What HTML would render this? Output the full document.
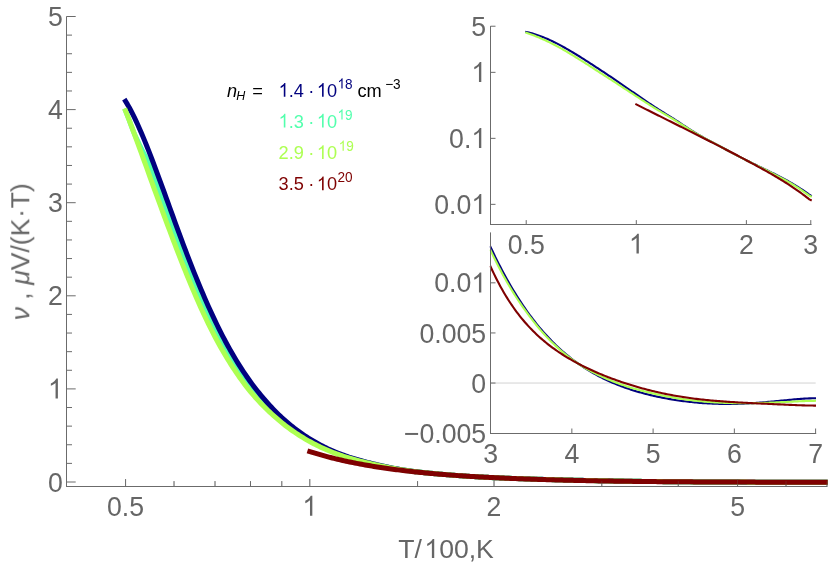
<!DOCTYPE html>
<html>
<head>
<meta charset="utf-8">
<title>Plot</title>
<style>
html,body{margin:0;padding:0;background:#fff;}
body{width:830px;height:572px;overflow:hidden;font-family:"Liberation Sans",sans-serif;}
svg{display:block;}
</style>
</head>
<body>
<svg width="830" height="572" viewBox="0 0 830 572" font-family="'Liberation Sans', sans-serif">
<rect width="830" height="572" fill="#ffffff"/>
<g opacity="0.999">
<line x1="125.57" y1="486.50" x2="125.57" y2="479.10" stroke="#6b6b6b" stroke-width="1.00"/>
<line x1="309.80" y1="486.50" x2="309.80" y2="479.10" stroke="#6b6b6b" stroke-width="1.00"/>
<line x1="494.03" y1="486.50" x2="494.03" y2="479.10" stroke="#6b6b6b" stroke-width="1.00"/>
<line x1="737.57" y1="486.50" x2="737.57" y2="479.10" stroke="#6b6b6b" stroke-width="1.00"/>
<line x1="174.03" y1="486.50" x2="174.03" y2="481.10" stroke="#6b6b6b" stroke-width="1.00"/>
<line x1="215.00" y1="486.50" x2="215.00" y2="481.10" stroke="#6b6b6b" stroke-width="1.00"/>
<line x1="250.49" y1="486.50" x2="250.49" y2="481.10" stroke="#6b6b6b" stroke-width="1.00"/>
<line x1="281.80" y1="486.50" x2="281.80" y2="481.10" stroke="#6b6b6b" stroke-width="1.00"/>
<line x1="417.57" y1="486.50" x2="417.57" y2="481.10" stroke="#6b6b6b" stroke-width="1.00"/>
<line x1="601.80" y1="486.50" x2="601.80" y2="481.10" stroke="#6b6b6b" stroke-width="1.00"/>
<line x1="678.26" y1="486.50" x2="678.26" y2="481.10" stroke="#6b6b6b" stroke-width="1.00"/>
<line x1="786.03" y1="486.50" x2="786.03" y2="481.10" stroke="#6b6b6b" stroke-width="1.00"/>
<line x1="827.00" y1="486.50" x2="827.00" y2="481.10" stroke="#6b6b6b" stroke-width="1.00"/>
<clipPath id="mc"><rect x="60" y="0" width="767.7" height="572"/></clipPath>
<g fill="none" stroke-width="5.00" stroke-linejoin="round" stroke-linecap="square" clip-path="url(#mc)">
<path d="M125.57,110.81 L127.33,115.31 L129.09,119.89 L130.84,124.54 L132.60,129.25 L134.36,133.89 L136.12,137.67 L137.88,141.37 L139.63,144.98 L141.39,148.52 L143.15,152.01 L144.91,155.49 L146.67,158.94 L148.42,162.37 L150.18,166.32 L151.94,171.06 L153.70,175.81 L155.46,180.57 L157.21,185.34 L158.97,190.11 L160.73,194.90 L162.49,199.69 L164.25,204.49 L166.00,209.29 L167.76,214.09 L169.52,218.87 L171.28,223.64 L173.03,228.39 L174.79,233.12 L176.55,237.82 L178.31,242.49 L180.07,247.13 L181.82,251.73 L183.58,256.30 L185.34,260.82 L187.10,265.29 L188.86,269.72 L190.61,274.10 L192.37,278.43 L194.13,282.71 L195.89,286.93 L197.65,291.10 L199.40,295.22 L201.16,299.27 L202.92,303.26 L204.68,307.19 L206.44,311.06 L208.19,314.86 L209.95,318.59 L211.71,322.26 L213.47,325.86 L215.23,329.39 L216.98,332.85 L218.74,336.24 L220.50,339.57 L222.26,342.84 L224.02,346.04 L225.77,349.18 L227.53,352.25 L229.29,355.27 L231.05,358.22 L232.81,361.11 L234.56,363.94 L236.32,366.72 L238.08,369.43 L239.84,372.08 L241.60,374.68 L243.35,377.21 L245.11,379.69 L246.87,382.12 L248.63,384.48 L250.39,386.79 L252.14,389.03 L253.90,391.22 L255.66,393.36 L257.42,395.44 L259.18,397.48 L260.93,399.48 L262.69,401.43 L264.45,403.34 L266.21,405.21 L267.97,407.04 L269.72,408.84 L271.48,410.60 L273.24,412.32 L275.00,414.00 L276.76,415.65 L278.51,417.27 L280.27,418.84 L282.03,420.38 L283.79,421.88 L285.54,423.35 L287.30,424.78 L289.06,426.17 L290.82,427.54 L292.58,428.86 L294.33,430.16 L296.09,431.42 L297.85,432.66 L299.61,433.86 L301.37,435.03 L303.12,436.18 L304.88,437.29 L306.64,438.38 L308.40,439.44 L310.16,440.48 L311.91,441.49 L313.67,442.47 L315.43,443.43 L317.19,444.36 L318.95,445.28 L320.70,446.16 L322.46,447.03 L324.22,447.87 L325.98,448.69 L327.74,449.49 L329.49,450.27 L331.25,451.03 L333.01,451.77 L334.77,452.48 L336.53,453.17 L338.28,453.85 L340.04,454.50 L341.80,455.13 L343.56,455.74 L345.32,456.34 L347.07,456.91 L348.83,457.48 L350.59,458.02 L352.35,458.55 L354.11,459.07 L355.86,459.57 L357.62,460.07 L359.38,460.55 L361.14,461.02 L362.90,461.48 L364.65,461.94 L366.41,462.38 L368.17,462.82 L369.93,463.25 L371.69,463.67 L373.44,464.08 L375.20,464.49 L376.96,464.89 L378.72,465.28 L380.48,465.67 L382.23,466.05 L383.99,466.42 L385.75,466.79 L387.51,467.15 L389.27,467.50 L391.02,467.84 L392.78,468.17 L394.54,468.49 L396.30,468.81 L398.06,469.11 L399.81,469.41 L401.57,469.70 L403.33,469.98 L405.09,470.24 L406.84,470.50 L408.60,470.75 L410.36,470.99 L412.12,471.23 L413.88,471.45 L415.63,471.67 L417.39,471.88 L419.15,472.08 L420.91,472.28 L422.67,472.47 L424.42,472.66 L426.18,472.84 L427.94,473.02 L429.70,473.19 L431.46,473.36 L433.21,473.53 L434.97,473.69 L436.73,473.85 L438.49,474.00 L440.25,474.16 L442.00,474.31 L443.76,474.45 L445.52,474.60 L447.28,474.74 L449.04,474.88 L450.79,475.02 L452.55,475.16 L454.31,475.29 L456.07,475.42 L457.83,475.55 L459.58,475.68 L461.34,475.80 L463.10,475.92 L464.86,476.04 L466.62,476.16 L468.37,476.27 L470.13,476.38 L471.89,476.49 L473.65,476.60 L475.41,476.70 L477.16,476.81 L478.92,476.91 L480.68,477.00 L482.44,477.10 L484.20,477.19 L485.95,477.28 L487.71,477.37 L489.47,477.46 L491.23,477.54 L492.99,477.63 L494.74,477.71 L496.50,477.78 L498.26,477.86 L500.02,477.94 L501.78,478.01 L503.53,478.08 L505.29,478.15 L507.05,478.22 L508.81,478.29 L510.57,478.35 L512.32,478.42 L514.08,478.48 L515.84,478.54 L517.60,478.60 L519.36,478.66 L521.11,478.72 L522.87,478.78 L524.63,478.84 L526.39,478.89 L528.14,478.95 L529.90,479.00 L531.66,479.06 L533.42,479.11 L535.18,479.16 L536.93,479.21 L538.69,479.26 L540.45,479.31 L542.21,479.36 L543.97,479.41 L545.72,479.46 L547.48,479.51 L549.24,479.56 L551.00,479.60 L552.76,479.65 L554.51,479.69 L556.27,479.74 L558.03,479.78 L559.79,479.83 L561.55,479.87 L563.30,479.92 L565.06,479.96 L566.82,480.00 L568.58,480.04 L570.34,480.08 L572.09,480.13 L573.85,480.17 L575.61,480.21 L577.37,480.25 L579.13,480.29 L580.88,480.33 L582.64,480.37 L584.40,480.41 L586.16,480.44 L587.92,480.48 L589.67,480.52 L591.43,480.56 L593.19,480.59 L594.95,480.63 L596.71,480.67 L598.46,480.70 L600.22,480.74 L601.98,480.76 L603.74,480.79 L605.50,480.82 L607.25,480.85 L609.01,480.88 L610.77,480.91 L612.53,480.94 L614.29,480.97 L616.04,481.00 L617.80,481.03 L619.56,481.06 L621.32,481.08 L623.08,481.11 L624.83,481.14 L626.59,481.17 L628.35,481.19 L630.11,481.22 L631.87,481.24 L633.62,481.27 L635.38,481.29 L637.14,481.32 L638.90,481.34 L640.66,481.36 L642.41,481.39 L644.17,481.41 L645.93,481.43 L647.69,481.46 L649.44,481.48 L651.20,481.50 L652.96,481.52 L654.72,481.54 L656.48,481.56 L658.23,481.58 L659.99,481.60 L661.75,481.62 L663.51,481.64 L665.27,481.66 L667.02,481.67 L668.78,481.69 L670.54,481.71 L672.30,481.72 L674.06,481.74 L675.81,481.76 L677.57,481.77 L679.33,481.79 L681.09,481.80 L682.85,481.82 L684.60,481.83 L686.36,481.84 L688.12,481.86 L689.88,481.87 L691.64,481.88 L693.39,481.89 L695.15,481.90 L696.91,481.92 L698.67,481.93 L700.43,481.94 L702.18,481.95 L703.94,481.96 L705.70,481.97 L707.46,481.98 L709.22,481.99 L710.97,482.00 L712.73,482.01 L714.49,482.01 L716.25,482.02 L718.01,482.03 L719.76,482.04 L721.52,482.05 L723.28,482.05 L725.04,482.06 L726.80,482.07 L728.55,482.08 L730.31,482.08 L732.07,482.09 L733.83,482.09 L735.59,482.10 L737.34,482.11 L739.10,482.11 L740.86,482.12 L742.62,482.12 L744.38,482.13 L746.13,482.13 L747.89,482.14 L749.65,482.14 L751.41,482.15 L753.17,482.15 L754.92,482.16 L756.68,482.16 L758.44,482.16 L760.20,482.17 L761.96,482.17 L763.71,482.17 L765.47,482.17 L767.23,482.18 L768.99,482.18 L770.74,482.18 L772.50,482.18 L774.26,482.19 L776.02,482.19 L777.78,482.19 L779.53,482.19 L781.29,482.19 L783.05,482.19 L784.81,482.19 L786.57,482.19 L788.32,482.19 L790.08,482.19 L791.84,482.19 L793.60,482.19 L795.36,482.19 L797.11,482.19 L798.87,482.18 L800.63,482.18 L802.39,482.18 L804.15,482.18 L805.90,482.18 L807.66,482.17 L809.42,482.17 L811.18,482.17 L812.94,482.17 L814.69,482.16 L816.45,482.16 L818.21,482.16 L819.97,482.16 L821.73,482.16 L823.48,482.15 L825.24,482.15 L827.00,482.15" stroke="#52ffad"/>
<path d="M125.57,101.24 L127.33,104.16 L129.09,107.24 L130.84,110.49 L132.60,113.90 L134.36,117.45 L136.12,121.14 L137.88,124.97 L139.63,128.91 L141.39,132.97 L143.15,137.13 L144.91,141.39 L146.67,145.74 L148.42,150.17 L150.18,154.67 L151.94,159.24 L153.70,163.87 L155.46,168.54 L157.21,173.26 L158.97,178.02 L160.73,182.81 L162.49,187.62 L164.25,192.45 L166.00,197.29 L167.76,202.15 L169.52,207.00 L171.28,211.85 L173.03,216.69 L174.79,221.52 L176.55,226.33 L178.31,231.11 L180.07,235.87 L181.82,240.60 L183.58,245.30 L185.34,249.95 L187.10,254.57 L188.86,259.14 L190.61,263.66 L192.37,268.13 L194.13,272.55 L195.89,276.91 L197.65,281.23 L199.40,285.48 L201.16,289.68 L202.92,293.83 L204.68,297.91 L206.44,301.93 L208.19,305.89 L209.95,309.79 L211.71,313.62 L213.47,317.39 L215.23,321.10 L216.98,324.74 L218.74,328.32 L220.50,331.83 L222.26,335.27 L224.02,338.65 L225.77,341.96 L227.53,345.21 L229.29,348.40 L231.05,351.52 L232.81,354.58 L234.56,357.57 L236.32,360.50 L238.08,363.37 L239.84,366.18 L241.60,368.92 L243.35,371.61 L245.11,374.23 L246.87,376.79 L248.63,379.30 L250.39,381.74 L252.14,384.13 L253.90,386.47 L255.66,388.75 L257.42,390.99 L259.18,393.17 L260.93,395.32 L262.69,397.41 L264.45,399.47 L266.21,401.49 L267.97,403.46 L269.72,405.40 L271.48,407.29 L273.24,409.14 L275.00,410.94 L276.76,412.71 L278.51,414.43 L280.27,416.12 L282.03,417.76 L283.79,419.36 L285.54,420.92 L287.30,422.45 L289.06,423.93 L290.82,425.38 L292.58,426.80 L294.33,428.18 L296.09,429.52 L297.85,430.83 L299.61,432.11 L301.37,433.35 L303.12,434.57 L304.88,435.75 L306.64,436.90 L308.40,438.03 L310.16,439.12 L311.91,440.19 L313.67,441.23 L315.43,442.24 L317.19,443.23 L318.95,444.19 L320.70,445.13 L322.46,446.04 L324.22,446.93 L325.98,447.80 L327.74,448.64 L329.49,449.46 L331.25,450.26 L333.01,451.04 L334.77,451.79 L336.53,452.52 L338.28,453.22 L340.04,453.91 L341.80,454.57 L343.56,455.21 L345.32,455.84 L347.07,456.44 L348.83,457.03 L350.59,457.60 L352.35,458.15 L354.11,458.69 L355.86,459.22 L357.62,459.73 L359.38,460.23 L361.14,460.72 L362.90,461.20 L364.65,461.67 L366.41,462.13 L368.17,462.58 L369.93,463.02 L371.69,463.46 L373.44,463.88 L375.20,464.30 L376.96,464.71 L378.72,465.12 L380.48,465.52 L382.23,465.91 L383.99,466.29 L385.75,466.67 L387.51,467.04 L389.27,467.40 L391.02,467.75 L392.78,468.09 L394.54,468.42 L396.30,468.74 L398.06,469.05 L399.81,469.36 L401.57,469.65 L403.33,469.93 L405.09,470.21 L406.84,470.47 L408.60,470.73 L410.36,470.97 L412.12,471.21 L413.88,471.43 L415.63,471.65 L417.39,471.87 L419.15,472.07 L420.91,472.27 L422.67,472.47 L424.42,472.66 L426.18,472.84 L427.94,473.02 L429.70,473.19 L431.46,473.36 L433.21,473.53 L434.97,473.69 L436.73,473.85 L438.49,474.00 L440.25,474.16 L442.00,474.31 L443.76,474.45 L445.52,474.60 L447.28,474.74 L449.04,474.88 L450.79,475.02 L452.55,475.16 L454.31,475.29 L456.07,475.42 L457.83,475.55 L459.58,475.68 L461.34,475.80 L463.10,475.92 L464.86,476.04 L466.62,476.16 L468.37,476.27 L470.13,476.38 L471.89,476.49 L473.65,476.60 L475.41,476.70 L477.16,476.81 L478.92,476.91 L480.68,477.00 L482.44,477.10 L484.20,477.19 L485.95,477.28 L487.71,477.37 L489.47,477.46 L491.23,477.54 L492.99,477.63 L494.74,477.71 L496.50,477.78 L498.26,477.86 L500.02,477.94 L501.78,478.01 L503.53,478.08 L505.29,478.15 L507.05,478.22 L508.81,478.28 L510.57,478.35 L512.32,478.41 L514.08,478.48 L515.84,478.54 L517.60,478.60 L519.36,478.66 L521.11,478.71 L522.87,478.77 L524.63,478.83 L526.39,478.88 L528.14,478.94 L529.90,478.99 L531.66,479.04 L533.42,479.10 L535.18,479.15 L536.93,479.20 L538.69,479.25 L540.45,479.30 L542.21,479.35 L543.97,479.40 L545.72,479.44 L547.48,479.49 L549.24,479.54 L551.00,479.58 L552.76,479.63 L554.51,479.68 L556.27,479.72 L558.03,479.76 L559.79,479.81 L561.55,479.85 L563.30,479.90 L565.06,479.94 L566.82,479.98 L568.58,480.02 L570.34,480.06 L572.09,480.11 L573.85,480.15 L575.61,480.19 L577.37,480.23 L579.13,480.27 L580.88,480.31 L582.64,480.34 L584.40,480.38 L586.16,480.42 L587.92,480.46 L589.67,480.50 L591.43,480.53 L593.19,480.57 L594.95,480.61 L596.71,480.64 L598.46,480.68 L600.22,480.71 L601.98,480.74 L603.74,480.77 L605.50,480.80 L607.25,480.83 L609.01,480.87 L610.77,480.90 L612.53,480.93 L614.29,480.96 L616.04,480.99 L617.80,481.01 L619.56,481.04 L621.32,481.07 L623.08,481.10 L624.83,481.13 L626.59,481.15 L628.35,481.18 L630.11,481.21 L631.87,481.23 L633.62,481.26 L635.38,481.28 L637.14,481.31 L638.90,481.33 L640.66,481.36 L642.41,481.38 L644.17,481.40 L645.93,481.43 L647.69,481.45 L649.44,481.47 L651.20,481.49 L652.96,481.51 L654.72,481.54 L656.48,481.56 L658.23,481.58 L659.99,481.60 L661.75,481.61 L663.51,481.63 L665.27,481.65 L667.02,481.67 L668.78,481.69 L670.54,481.70 L672.30,481.72 L674.06,481.74 L675.81,481.75 L677.57,481.77 L679.33,481.79 L681.09,481.80 L682.85,481.81 L684.60,481.83 L686.36,481.84 L688.12,481.86 L689.88,481.87 L691.64,481.88 L693.39,481.90 L695.15,481.91 L696.91,481.92 L698.67,481.93 L700.43,481.94 L702.18,481.95 L703.94,481.96 L705.70,481.97 L707.46,481.98 L709.22,481.99 L710.97,482.00 L712.73,482.01 L714.49,482.02 L716.25,482.03 L718.01,482.04 L719.76,482.05 L721.52,482.06 L723.28,482.06 L725.04,482.07 L726.80,482.08 L728.55,482.09 L730.31,482.09 L732.07,482.10 L733.83,482.11 L735.59,482.11 L737.34,482.12 L739.10,482.12 L740.86,482.13 L742.62,482.13 L744.38,482.14 L746.13,482.14 L747.89,482.15 L749.65,482.15 L751.41,482.16 L753.17,482.16 L754.92,482.16 L756.68,482.17 L758.44,482.17 L760.20,482.17 L761.96,482.18 L763.71,482.18 L765.47,482.18 L767.23,482.18 L768.99,482.19 L770.74,482.19 L772.50,482.19 L774.26,482.19 L776.02,482.19 L777.78,482.19 L779.53,482.19 L781.29,482.19 L783.05,482.19 L784.81,482.19 L786.57,482.19 L788.32,482.19 L790.08,482.19 L791.84,482.19 L793.60,482.19 L795.36,482.19 L797.11,482.19 L798.87,482.18 L800.63,482.18 L802.39,482.18 L804.15,482.18 L805.90,482.17 L807.66,482.17 L809.42,482.17 L811.18,482.16 L812.94,482.16 L814.69,482.16 L816.45,482.15 L818.21,482.15 L819.97,482.15 L821.73,482.14 L823.48,482.14 L825.24,482.14 L827.00,482.14" stroke="#00007f"/>
<path d="M125.57,110.81 L127.33,115.31 L129.09,119.89 L130.84,124.54 L132.60,129.25 L134.36,134.00 L136.12,138.78 L137.88,143.57 L139.63,148.38 L141.39,153.19 L143.15,158.02 L144.91,162.88 L146.67,167.76 L148.42,172.66 L150.18,177.56 L151.94,182.44 L153.70,187.31 L155.46,192.14 L157.21,196.94 L158.97,201.72 L160.73,206.50 L162.49,211.27 L164.25,216.04 L166.00,220.78 L167.76,225.52 L169.52,230.23 L171.28,234.91 L173.03,239.57 L174.79,244.20 L176.55,248.80 L178.31,253.35 L180.07,257.87 L181.82,262.35 L183.58,266.78 L185.34,271.17 L187.10,275.51 L188.86,279.80 L190.61,284.04 L192.37,288.23 L194.13,292.38 L195.89,296.46 L197.65,300.50 L199.40,304.47 L201.16,308.38 L202.92,312.22 L204.68,316.01 L206.44,319.72 L208.19,323.37 L209.95,326.95 L211.71,330.45 L213.47,333.89 L215.23,337.25 L216.98,340.54 L218.74,343.76 L220.50,346.92 L222.26,350.01 L224.02,353.04 L225.77,356.02 L227.53,358.93 L229.29,361.78 L231.05,364.58 L232.81,367.31 L234.56,369.99 L236.32,372.61 L238.08,375.18 L239.84,377.69 L241.60,380.14 L243.35,382.54 L245.11,384.88 L246.87,387.17 L248.63,389.41 L250.39,391.58 L252.14,393.69 L253.90,395.74 L255.66,397.74 L257.42,399.69 L259.18,401.58 L260.93,403.44 L262.69,405.25 L264.45,407.02 L266.21,408.76 L267.97,410.46 L269.72,412.13 L271.48,413.76 L273.24,415.36 L275.00,416.93 L276.76,418.47 L278.51,419.98 L280.27,421.46 L282.03,422.90 L283.79,424.30 L285.54,425.68 L287.30,427.02 L289.06,428.33 L290.82,429.61 L292.58,430.85 L294.33,432.07 L296.09,433.26 L297.85,434.42 L299.61,435.55 L301.37,436.65 L303.12,437.73 L304.88,438.78 L306.64,439.81 L308.40,440.81 L310.16,441.79 L311.91,442.74 L313.67,443.67 L315.43,444.58 L317.19,445.46 L318.95,446.33 L320.70,447.17 L322.46,447.99 L324.22,448.78 L325.98,449.56 L327.74,450.32 L329.49,451.06 L331.25,451.78 L333.01,452.48 L334.77,453.16 L336.53,453.82 L338.28,454.46 L340.04,455.08 L341.80,455.68 L343.56,456.26 L345.32,456.83 L347.07,457.38 L348.83,457.92 L350.59,458.44 L352.35,458.95 L354.11,459.44 L355.86,459.93 L357.62,460.40 L359.38,460.86 L361.14,461.32 L362.90,461.76 L364.65,462.20 L366.41,462.63 L368.17,463.05 L369.93,463.46 L371.69,463.87 L373.44,464.27 L375.20,464.67 L376.96,465.06 L378.72,465.44 L380.48,465.82 L382.23,466.19 L383.99,466.55 L385.75,466.91 L387.51,467.26 L389.27,467.60 L391.02,467.93 L392.78,468.25 L394.54,468.57 L396.30,468.88 L398.06,469.18 L399.81,469.47 L401.57,469.75 L403.33,470.02 L405.09,470.28 L406.84,470.54 L408.60,470.78 L410.36,471.02 L412.12,471.25 L413.88,471.47 L415.63,471.68 L417.39,471.89 L419.15,472.09 L420.91,472.29 L422.67,472.48 L424.42,472.66 L426.18,472.84 L427.94,473.02 L429.70,473.19 L431.46,473.36 L433.21,473.53 L434.97,473.69 L436.73,473.85 L438.49,474.00 L440.25,474.16 L442.00,474.31 L443.76,474.45 L445.52,474.60 L447.28,474.74 L449.04,474.88 L450.79,475.02 L452.55,475.16 L454.31,475.29 L456.07,475.42 L457.83,475.55 L459.58,475.68 L461.34,475.80 L463.10,475.92 L464.86,476.04 L466.62,476.16 L468.37,476.27 L470.13,476.38 L471.89,476.49 L473.65,476.60 L475.41,476.70 L477.16,476.81 L478.92,476.91 L480.68,477.00 L482.44,477.10 L484.20,477.19 L485.95,477.28 L487.71,477.37 L489.47,477.46 L491.23,477.54 L492.99,477.63 L494.74,477.71 L496.50,477.78 L498.26,477.86 L500.02,477.94 L501.78,478.01 L503.53,478.08 L505.29,478.15 L507.05,478.22 L508.81,478.29 L510.57,478.36 L512.32,478.42 L514.08,478.48 L515.84,478.55 L517.60,478.61 L519.36,478.67 L521.11,478.73 L522.87,478.79 L524.63,478.85 L526.39,478.90 L528.14,478.96 L529.90,479.01 L531.66,479.07 L533.42,479.12 L535.18,479.17 L536.93,479.23 L538.69,479.28 L540.45,479.33 L542.21,479.38 L543.97,479.43 L545.72,479.48 L547.48,479.53 L549.24,479.57 L551.00,479.62 L552.76,479.67 L554.51,479.71 L556.27,479.76 L558.03,479.80 L559.79,479.85 L561.55,479.89 L563.30,479.94 L565.06,479.98 L566.82,480.02 L568.58,480.06 L570.34,480.11 L572.09,480.15 L573.85,480.19 L575.61,480.23 L577.37,480.27 L579.13,480.31 L580.88,480.35 L582.64,480.39 L584.40,480.43 L586.16,480.47 L587.92,480.50 L589.67,480.54 L591.43,480.58 L593.19,480.62 L594.95,480.65 L596.71,480.69 L598.46,480.72 L600.22,480.76 L601.98,480.77 L603.74,480.80 L605.50,480.83 L607.25,480.86 L609.01,480.90 L610.77,480.93 L612.53,480.95 L614.29,480.98 L616.04,481.01 L617.80,481.04 L619.56,481.07 L621.32,481.10 L623.08,481.12 L624.83,481.15 L626.59,481.18 L628.35,481.20 L630.11,481.23 L631.87,481.25 L633.62,481.28 L635.38,481.30 L637.14,481.33 L638.90,481.35 L640.66,481.37 L642.41,481.39 L644.17,481.42 L645.93,481.44 L647.69,481.46 L649.44,481.48 L651.20,481.51 L652.96,481.53 L654.72,481.55 L656.48,481.57 L658.23,481.59 L659.99,481.61 L661.75,481.62 L663.51,481.64 L665.27,481.66 L667.02,481.68 L668.78,481.69 L670.54,481.71 L672.30,481.73 L674.06,481.74 L675.81,481.76 L677.57,481.77 L679.33,481.79 L681.09,481.80 L682.85,481.82 L684.60,481.83 L686.36,481.84 L688.12,481.85 L689.88,481.87 L691.64,481.88 L693.39,481.89 L695.15,481.90 L696.91,481.91 L698.67,481.92 L700.43,481.93 L702.18,481.94 L703.94,481.95 L705.70,481.96 L707.46,481.97 L709.22,481.98 L710.97,481.99 L712.73,482.00 L714.49,482.01 L716.25,482.02 L718.01,482.02 L719.76,482.03 L721.52,482.04 L723.28,482.05 L725.04,482.05 L726.80,482.06 L728.55,482.07 L730.31,482.07 L732.07,482.08 L733.83,482.08 L735.59,482.09 L737.34,482.10 L739.10,482.10 L740.86,482.11 L742.62,482.11 L744.38,482.12 L746.13,482.12 L747.89,482.13 L749.65,482.13 L751.41,482.14 L753.17,482.14 L754.92,482.15 L756.68,482.15 L758.44,482.15 L760.20,482.16 L761.96,482.16 L763.71,482.16 L765.47,482.17 L767.23,482.17 L768.99,482.17 L770.74,482.17 L772.50,482.18 L774.26,482.18 L776.02,482.18 L777.78,482.18 L779.53,482.18 L781.29,482.18 L783.05,482.19 L784.81,482.19 L786.57,482.19 L788.32,482.19 L790.08,482.19 L791.84,482.19 L793.60,482.19 L795.36,482.19 L797.11,482.19 L798.87,482.19 L800.63,482.18 L802.39,482.18 L804.15,482.18 L805.90,482.18 L807.66,482.18 L809.42,482.18 L811.18,482.18 L812.94,482.18 L814.69,482.17 L816.45,482.17 L818.21,482.17 L819.97,482.17 L821.73,482.17 L823.48,482.17 L825.24,482.17 L827.00,482.17" stroke="#adff52"/>
<path d="M309.80,451.57 L311.53,452.12 L313.26,452.66 L314.99,453.19 L316.72,453.71 L318.45,454.22 L320.18,454.72 L321.91,455.21 L323.64,455.69 L325.37,456.16 L327.10,456.63 L328.83,457.08 L330.56,457.53 L332.29,457.97 L334.02,458.40 L335.75,458.82 L337.48,459.24 L339.21,459.64 L340.94,460.04 L342.67,460.44 L344.40,460.82 L346.13,461.20 L347.85,461.57 L349.58,461.94 L351.31,462.29 L353.04,462.65 L354.77,462.99 L356.50,463.33 L358.23,463.66 L359.96,463.99 L361.69,464.31 L363.42,464.63 L365.15,464.94 L366.88,465.24 L368.61,465.54 L370.34,465.83 L372.07,466.12 L373.80,466.41 L375.53,466.68 L377.26,466.96 L378.99,467.23 L380.72,467.49 L382.45,467.75 L384.18,468.00 L385.91,468.25 L387.64,468.50 L389.37,468.74 L391.10,468.98 L392.83,469.21 L394.56,469.44 L396.29,469.67 L398.02,469.89 L399.75,470.10 L401.48,470.32 L403.21,470.53 L404.94,470.73 L406.67,470.93 L408.40,471.13 L410.13,471.33 L411.86,471.52 L413.59,471.71 L415.32,471.90 L417.05,472.08 L418.78,472.26 L420.51,472.43 L422.23,472.60 L423.96,472.77 L425.69,472.94 L427.42,473.11 L429.15,473.27 L430.88,473.43 L432.61,473.58 L434.34,473.73 L436.07,473.88 L437.80,474.03 L439.53,474.18 L441.26,474.32 L442.99,474.46 L444.72,474.60 L446.45,474.73 L448.18,474.87 L449.91,475.00 L451.64,475.12 L453.37,475.25 L455.10,475.37 L456.83,475.50 L458.56,475.62 L460.29,475.73 L462.02,475.85 L463.75,475.96 L465.48,476.07 L467.21,476.18 L468.94,476.29 L470.67,476.40 L472.40,476.50 L474.13,476.61 L475.86,476.71 L477.59,476.81 L479.32,476.90 L481.05,477.00 L482.78,477.09 L484.51,477.19 L486.24,477.28 L487.97,477.37 L489.70,477.45 L491.43,477.54 L493.16,477.62 L494.88,477.71 L496.61,477.79 L498.34,477.87 L500.07,477.95 L501.80,478.03 L503.53,478.10 L505.26,478.18 L506.99,478.25 L508.72,478.33 L510.45,478.40 L512.18,478.47 L513.91,478.54 L515.64,478.61 L517.37,478.67 L519.10,478.74 L520.83,478.80 L522.56,478.87 L524.29,478.93 L526.02,478.99 L527.75,479.05 L529.48,479.11 L531.21,479.17 L532.94,479.22 L534.67,479.28 L536.40,479.34 L538.13,479.39 L539.86,479.45 L541.59,479.50 L543.32,479.55 L545.05,479.60 L546.78,479.65 L548.51,479.71 L550.24,479.75 L551.97,479.80 L553.70,479.85 L555.43,479.90 L557.16,479.95 L558.89,479.99 L560.62,480.04 L562.35,480.08 L564.08,480.13 L565.81,480.17 L567.54,480.21 L569.26,480.25 L570.99,480.30 L572.72,480.34 L574.45,480.38 L576.18,480.42 L577.91,480.46 L579.64,480.49 L581.37,480.53 L583.10,480.57 L584.83,480.61 L586.56,480.64 L588.29,480.68 L590.02,480.71 L591.75,480.75 L593.48,480.78 L595.21,480.81 L596.94,480.85 L598.67,480.88 L600.40,480.91 L602.13,480.92 L603.86,480.96 L605.59,480.99 L607.32,481.02 L609.05,481.05 L610.78,481.08 L612.51,481.11 L614.24,481.13 L615.97,481.16 L617.70,481.19 L619.43,481.21 L621.16,481.24 L622.89,481.26 L624.62,481.28 L626.35,481.31 L628.08,481.33 L629.81,481.35 L631.54,481.37 L633.27,481.39 L635.00,481.41 L636.73,481.43 L638.46,481.45 L640.19,481.47 L641.92,481.49 L643.64,481.51 L645.37,481.53 L647.10,481.54 L648.83,481.56 L650.56,481.57 L652.29,481.59 L654.02,481.61 L655.75,481.62 L657.48,481.64 L659.21,481.65 L660.94,481.66 L662.67,481.68 L664.40,481.69 L666.13,481.70 L667.86,481.72 L669.59,481.73 L671.32,481.74 L673.05,481.75 L674.78,481.76 L676.51,481.78 L678.24,481.79 L679.97,481.80 L681.70,481.81 L683.43,481.82 L685.16,481.83 L686.89,481.84 L688.62,481.85 L690.35,481.86 L692.08,481.87 L693.81,481.88 L695.54,481.89 L697.27,481.90 L699.00,481.91 L700.73,481.92 L702.46,481.93 L704.19,481.93 L705.92,481.94 L707.65,481.95 L709.38,481.96 L711.11,481.97 L712.84,481.98 L714.57,481.98 L716.29,481.99 L718.02,482.00 L719.75,482.01 L721.48,482.01 L723.21,482.02 L724.94,482.03 L726.67,482.04 L728.40,482.04 L730.13,482.05 L731.86,482.05 L733.59,482.06 L735.32,482.07 L737.05,482.07 L738.78,482.08 L740.51,482.09 L742.24,482.09 L743.97,482.10 L745.70,482.10 L747.43,482.11 L749.16,482.11 L750.89,482.12 L752.62,482.12 L754.35,482.12 L756.08,482.13 L757.81,482.13 L759.54,482.14 L761.27,482.14 L763.00,482.14 L764.73,482.15 L766.46,482.15 L768.19,482.15 L769.92,482.16 L771.65,482.16 L773.38,482.16 L775.11,482.16 L776.84,482.17 L778.57,482.17 L780.30,482.17 L782.03,482.17 L783.76,482.18 L785.49,482.18 L787.22,482.18 L788.95,482.18 L790.67,482.18 L792.40,482.18 L794.13,482.19 L795.86,482.19 L797.59,482.19 L799.32,482.19 L801.05,482.19 L802.78,482.19 L804.51,482.19 L806.24,482.20 L807.97,482.20 L809.70,482.20 L811.43,482.20 L813.16,482.20 L814.89,482.20 L816.62,482.20 L818.35,482.21 L820.08,482.21 L821.81,482.21 L823.54,482.21 L825.27,482.21 L827.00,482.21" stroke="#7f0000"/>
</g>
<line x1="66.50" y1="16.40" x2="66.50" y2="487.00" stroke="#6b6b6b" stroke-width="1.00"/>
<line x1="66.00" y1="486.50" x2="827.40" y2="486.50" stroke="#6b6b6b" stroke-width="1.00"/>
<line x1="66.50" y1="482.00" x2="75.70" y2="482.00" stroke="#6b6b6b" stroke-width="1.00"/>
<g transform="translate(62.80,491.58) scale(1,1.040)"><text x="-14.85" y="0" font-size="26.70" fill="#666666">0</text></g>
<line x1="66.50" y1="463.38" x2="72.00" y2="463.38" stroke="#6b6b6b" stroke-width="1.00"/>
<line x1="66.50" y1="444.76" x2="72.00" y2="444.76" stroke="#6b6b6b" stroke-width="1.00"/>
<line x1="66.50" y1="426.14" x2="72.00" y2="426.14" stroke="#6b6b6b" stroke-width="1.00"/>
<line x1="66.50" y1="407.52" x2="72.00" y2="407.52" stroke="#6b6b6b" stroke-width="1.00"/>
<line x1="66.50" y1="388.90" x2="75.70" y2="388.90" stroke="#6b6b6b" stroke-width="1.00"/>
<g transform="translate(62.80,398.48) scale(1,1.040)"><path transform="translate(-14.85,0) scale(0.01304,-0.01304)" d="M763 0H583V1147Q518 1085 412.5 1023Q307 961 223 930V1104Q374 1175 487 1276Q600 1377 647 1472H763Z" fill="#666666"/></g>
<line x1="66.50" y1="370.28" x2="72.00" y2="370.28" stroke="#6b6b6b" stroke-width="1.00"/>
<line x1="66.50" y1="351.66" x2="72.00" y2="351.66" stroke="#6b6b6b" stroke-width="1.00"/>
<line x1="66.50" y1="333.04" x2="72.00" y2="333.04" stroke="#6b6b6b" stroke-width="1.00"/>
<line x1="66.50" y1="314.42" x2="72.00" y2="314.42" stroke="#6b6b6b" stroke-width="1.00"/>
<line x1="66.50" y1="295.80" x2="75.70" y2="295.80" stroke="#6b6b6b" stroke-width="1.00"/>
<g transform="translate(62.80,305.38) scale(1,1.040)"><text x="-14.85" y="0" font-size="26.70" fill="#666666">2</text></g>
<line x1="66.50" y1="277.18" x2="72.00" y2="277.18" stroke="#6b6b6b" stroke-width="1.00"/>
<line x1="66.50" y1="258.56" x2="72.00" y2="258.56" stroke="#6b6b6b" stroke-width="1.00"/>
<line x1="66.50" y1="239.94" x2="72.00" y2="239.94" stroke="#6b6b6b" stroke-width="1.00"/>
<line x1="66.50" y1="221.32" x2="72.00" y2="221.32" stroke="#6b6b6b" stroke-width="1.00"/>
<line x1="66.50" y1="202.70" x2="75.70" y2="202.70" stroke="#6b6b6b" stroke-width="1.00"/>
<g transform="translate(62.80,212.28) scale(1,1.040)"><text x="-14.85" y="0" font-size="26.70" fill="#666666">3</text></g>
<line x1="66.50" y1="184.08" x2="72.00" y2="184.08" stroke="#6b6b6b" stroke-width="1.00"/>
<line x1="66.50" y1="165.46" x2="72.00" y2="165.46" stroke="#6b6b6b" stroke-width="1.00"/>
<line x1="66.50" y1="146.84" x2="72.00" y2="146.84" stroke="#6b6b6b" stroke-width="1.00"/>
<line x1="66.50" y1="128.22" x2="72.00" y2="128.22" stroke="#6b6b6b" stroke-width="1.00"/>
<line x1="66.50" y1="109.60" x2="75.70" y2="109.60" stroke="#6b6b6b" stroke-width="1.00"/>
<g transform="translate(62.80,119.18) scale(1,1.040)"><text x="-14.85" y="0" font-size="26.70" fill="#666666">4</text></g>
<line x1="66.50" y1="90.98" x2="72.00" y2="90.98" stroke="#6b6b6b" stroke-width="1.00"/>
<line x1="66.50" y1="72.36" x2="72.00" y2="72.36" stroke="#6b6b6b" stroke-width="1.00"/>
<line x1="66.50" y1="53.74" x2="72.00" y2="53.74" stroke="#6b6b6b" stroke-width="1.00"/>
<line x1="66.50" y1="35.12" x2="72.00" y2="35.12" stroke="#6b6b6b" stroke-width="1.00"/>
<line x1="66.50" y1="16.50" x2="75.70" y2="16.50" stroke="#6b6b6b" stroke-width="1.00"/>
<g transform="translate(62.80,26.08) scale(1,1.040)"><text x="-14.85" y="0" font-size="26.70" fill="#666666">5</text></g>
<g transform="translate(125.57,515.80) scale(1,1.040)"><text x="-18.56" y="0" font-size="26.70" fill="#666666">0.5</text></g>
<g transform="translate(309.80,515.80) scale(1,1.040)"><path transform="translate(-7.42,0) scale(0.01304,-0.01304)" d="M763 0H583V1147Q518 1085 412.5 1023Q307 961 223 930V1104Q374 1175 487 1276Q600 1377 647 1472H763Z" fill="#666666"/></g>
<g transform="translate(494.03,515.80) scale(1,1.040)"><text x="-7.42" y="0" font-size="26.70" fill="#666666">2</text></g>
<g transform="translate(737.57,515.80) scale(1,1.040)"><text x="-7.42" y="0" font-size="26.70" fill="#666666">5</text></g>
<g opacity="0.3"><line x1="125.57" y1="486.50" x2="125.57" y2="479.10" stroke="#6b6b6b" stroke-width="1.00"/>
<line x1="309.80" y1="486.50" x2="309.80" y2="479.10" stroke="#6b6b6b" stroke-width="1.00"/>
<line x1="494.03" y1="486.50" x2="494.03" y2="479.10" stroke="#6b6b6b" stroke-width="1.00"/>
<line x1="737.57" y1="486.50" x2="737.57" y2="479.10" stroke="#6b6b6b" stroke-width="1.00"/>
<line x1="174.03" y1="486.50" x2="174.03" y2="481.10" stroke="#6b6b6b" stroke-width="1.00"/>
<line x1="215.00" y1="486.50" x2="215.00" y2="481.10" stroke="#6b6b6b" stroke-width="1.00"/>
<line x1="250.49" y1="486.50" x2="250.49" y2="481.10" stroke="#6b6b6b" stroke-width="1.00"/>
<line x1="281.80" y1="486.50" x2="281.80" y2="481.10" stroke="#6b6b6b" stroke-width="1.00"/>
<line x1="417.57" y1="486.50" x2="417.57" y2="481.10" stroke="#6b6b6b" stroke-width="1.00"/>
<line x1="601.80" y1="486.50" x2="601.80" y2="481.10" stroke="#6b6b6b" stroke-width="1.00"/>
<line x1="678.26" y1="486.50" x2="678.26" y2="481.10" stroke="#6b6b6b" stroke-width="1.00"/>
<line x1="786.03" y1="486.50" x2="786.03" y2="481.10" stroke="#6b6b6b" stroke-width="1.00"/>
<line x1="827.00" y1="486.50" x2="827.00" y2="481.10" stroke="#6b6b6b" stroke-width="1.00"/></g>
<g transform="translate(446,558)"><text x="-47.83" y="0" font-size="26.60" fill="#666666">T/</text><path transform="translate(-21.69,0) scale(0.01299,-0.01299)" d="M763 0H583V1147Q518 1085 412.5 1023Q307 961 223 930V1104Q374 1175 487 1276Q600 1377 647 1472H763Z" fill="#666666"/><text x="-6.89" y="0" font-size="26.60" fill="#666666">00,K</text></g>
<text transform="translate(29.3,251.8) rotate(-90)" font-size="26.6" text-anchor="middle" fill="#666666"><tspan font-style="italic">&#957;</tspan> , <tspan font-style="italic">&#956;</tspan>V/(K<tspan dx="0.7">&#183;</tspan><tspan dx="0.7">T)</tspan></text>
<g transform="translate(0,96.70) scale(1,1.050)"><path transform="translate(278.60,0) scale(0.00889,-0.00889)" d="M763 0H583V1147Q518 1085 412.5 1023Q307 961 223 930V1104Q374 1175 487 1276Q600 1377 647 1472H763Z" fill="#00007f"/><text x="288.72" y="0" font-size="18.20" fill="#00007f">.4</text><text x="308.20" y="0" font-size="18.20" fill="#00007f">&#183;</text><path transform="translate(316.86,0) scale(0.00889,-0.00889)" d="M763 0H583V1147Q518 1085 412.5 1023Q307 961 223 930V1104Q374 1175 487 1276Q600 1377 647 1472H763Z" fill="#00007f"/><text x="326.98" y="0" font-size="18.20" fill="#00007f">0</text><g transform="translate(0,-7.7)"><path transform="translate(337.51,0) scale(0.00664,-0.00664)" d="M763 0H583V1147Q518 1085 412.5 1023Q307 961 223 930V1104Q374 1175 487 1276Q600 1377 647 1472H763Z" fill="#00007f"/><text x="345.07" y="0" font-size="13.60" fill="#00007f">8</text></g></g>
<g transform="translate(0,127.60) scale(1,1.050)"><path transform="translate(278.60,0) scale(0.00889,-0.00889)" d="M763 0H583V1147Q518 1085 412.5 1023Q307 961 223 930V1104Q374 1175 487 1276Q600 1377 647 1472H763Z" fill="#52ffad"/><text x="288.72" y="0" font-size="18.20" fill="#52ffad">.3</text><text x="308.20" y="0" font-size="18.20" fill="#52ffad">&#183;</text><path transform="translate(316.86,0) scale(0.00889,-0.00889)" d="M763 0H583V1147Q518 1085 412.5 1023Q307 961 223 930V1104Q374 1175 487 1276Q600 1377 647 1472H763Z" fill="#52ffad"/><text x="326.98" y="0" font-size="18.20" fill="#52ffad">0</text><g transform="translate(0,-7.7)"><path transform="translate(337.51,0) scale(0.00664,-0.00664)" d="M763 0H583V1147Q518 1085 412.5 1023Q307 961 223 930V1104Q374 1175 487 1276Q600 1377 647 1472H763Z" fill="#52ffad"/><text x="345.07" y="0" font-size="13.60" fill="#52ffad">9</text></g></g>
<g transform="translate(0,158.90) scale(1,1.050)"><text x="278.60" y="0" font-size="18.20" fill="#adff52">2.9</text><text x="308.20" y="0" font-size="18.20" fill="#adff52">&#183;</text><path transform="translate(316.86,0) scale(0.00889,-0.00889)" d="M763 0H583V1147Q518 1085 412.5 1023Q307 961 223 930V1104Q374 1175 487 1276Q600 1377 647 1472H763Z" fill="#adff52"/><text x="326.98" y="0" font-size="18.20" fill="#adff52">0</text><g transform="translate(0,-7.7)"><path transform="translate(338.71,0) scale(0.00664,-0.00664)" d="M763 0H583V1147Q518 1085 412.5 1023Q307 961 223 930V1104Q374 1175 487 1276Q600 1377 647 1472H763Z" fill="#adff52"/><text x="346.27" y="0" font-size="13.60" fill="#adff52">9</text></g></g>
<g transform="translate(0,190.30) scale(1,1.050)"><text x="278.60" y="0" font-size="18.20" fill="#7f0000">3.5</text><text x="308.20" y="0" font-size="18.20" fill="#7f0000">&#183;</text><path transform="translate(316.86,0) scale(0.00889,-0.00889)" d="M763 0H583V1147Q518 1085 412.5 1023Q307 961 223 930V1104Q374 1175 487 1276Q600 1377 647 1472H763Z" fill="#7f0000"/><text x="326.98" y="0" font-size="18.20" fill="#7f0000">0</text><g transform="translate(0,-7.7)"><text x="337.51" y="0" font-size="13.60" fill="#7f0000">20</text></g></g>
<g transform="translate(0,96.7) scale(1,1.050)">
<text x="227.0" y="0" font-size="18.2" fill="#000"><tspan font-style="italic">n</tspan><tspan font-style="italic" font-size="12.5" dy="3.1" dx="-0.8">H</tspan></text>
<text x="252.3" y="0" font-size="18.2" fill="#000">=</text>
<text x="357.5" y="0" font-size="18.2" fill="#000">cm<tspan dy="-7.7" dx="3.4" font-size="13.6">&#8722;3</tspan></text>
</g>
<g fill="none" stroke-width="2.10" stroke-linejoin="round" stroke-linecap="square">
<path d="M526.21,31.98 L527.64,32.28 L529.07,32.61 L530.50,32.97 L531.93,33.35 L533.36,33.76 L534.79,34.19 L536.22,34.65 L537.65,35.13 L539.08,35.63 L540.51,36.16 L541.94,36.70 L543.37,37.27 L544.80,37.85 L546.23,38.46 L547.66,39.08 L549.09,39.72 L550.52,40.38 L551.95,41.05 L553.38,41.74 L554.81,42.45 L556.24,43.17 L557.67,43.91 L559.10,44.66 L560.53,45.42 L561.96,46.19 L563.39,46.98 L564.82,47.77 L566.25,48.58 L567.68,49.40 L569.11,50.22 L570.54,51.06 L571.97,51.91 L573.40,52.76 L574.83,53.62 L576.26,54.49 L577.69,55.37 L579.12,56.25 L580.55,57.15 L581.98,58.04 L583.41,58.95 L584.84,59.85 L586.27,60.77 L587.70,61.68 L589.13,62.60 L590.56,63.53 L591.99,64.46 L593.42,65.39 L594.85,66.33 L596.28,67.26 L597.71,68.20 L599.14,69.14 L600.57,70.08 L602.00,71.02 L603.43,71.96 L604.86,72.91 L606.29,73.86 L607.72,74.81 L609.15,75.77 L610.58,76.74 L612.01,77.71 L613.44,78.68 L614.87,79.66 L616.30,80.64 L617.73,81.63 L619.16,82.61 L620.59,83.60 L622.02,84.58 L623.45,85.57 L624.88,86.55 L626.31,87.54 L627.74,88.53 L629.17,89.51 L630.60,90.50 L632.03,91.49 L633.46,92.47 L634.89,93.46 L636.32,94.44 L637.75,95.43 L639.18,96.41 L640.61,97.39 L642.04,98.37 L643.47,99.35 L644.90,100.33 L646.33,101.30 L647.76,102.28 L649.19,103.25 L650.62,104.21 L652.05,105.16 L653.48,106.11 L654.91,107.05 L656.34,107.98 L657.77,108.89 L659.20,109.80 L660.63,110.70 L662.06,111.60 L663.49,112.49 L664.92,113.38 L666.35,114.27 L667.78,115.16 L669.21,116.05 L670.64,116.94 L672.07,117.84 L673.50,118.74 L674.93,119.65 L676.36,120.57 L677.79,121.50 L679.22,122.43 L680.65,123.38 L682.08,124.32 L683.51,125.27 L684.94,126.21 L686.37,127.16 L687.80,128.10 L689.23,129.03 L690.66,129.95 L692.09,130.86 L693.52,131.75 L694.95,132.63 L696.38,133.49 L697.81,134.33 L699.24,135.16 L700.67,135.97 L702.10,136.77 L703.53,137.56 L704.96,138.34 L706.39,139.11 L707.82,139.87 L709.25,140.63 L710.68,141.39 L712.11,142.14 L713.54,142.89 L714.97,143.65 L716.40,144.40 L717.83,145.16 L719.26,145.92 L720.69,146.69 L722.12,147.46 L723.55,148.23 L724.98,149.00 L726.41,149.77 L727.84,150.54 L729.27,151.31 L730.70,152.08 L732.13,152.85 L733.56,153.61 L734.99,154.38 L736.42,155.14 L737.85,155.89 L739.28,156.65 L740.71,157.40 L742.14,158.14 L743.57,158.88 L745.00,159.61 L746.43,160.34 L747.86,161.06 L749.29,161.77 L750.72,162.48 L752.15,163.18 L753.58,163.88 L755.01,164.57 L756.44,165.26 L757.87,165.95 L759.30,166.64 L760.73,167.32 L762.16,168.01 L763.59,168.70 L765.02,169.38 L766.45,170.07 L767.88,170.76 L769.31,171.45 L770.74,172.15 L772.17,172.85 L773.60,173.56 L775.03,174.27 L776.46,174.99 L777.89,175.71 L779.32,176.45 L780.75,177.19 L782.18,177.94 L783.61,178.69 L785.04,179.46 L786.47,180.24 L787.90,181.03 L789.33,181.84 L790.76,182.65 L792.19,183.48 L793.62,184.33 L795.05,185.19 L796.48,186.06 L797.91,186.95 L799.34,187.86 L800.77,188.79 L802.20,189.73 L803.63,190.69 L805.06,191.67 L806.49,192.67 L807.92,193.69 L809.35,194.74 L810.78,195.61" stroke="#00007f"/>
<path d="M526.21,32.71 L527.64,33.19 L529.07,33.68 L530.50,34.20 L531.93,34.73 L533.36,35.28 L534.79,35.84 L536.22,36.41 L537.65,36.99 L539.08,37.59 L540.51,38.21 L541.94,38.84 L543.37,39.48 L544.80,40.13 L546.23,40.79 L547.66,41.46 L549.09,42.15 L550.52,42.85 L551.95,43.57 L553.38,44.30 L554.81,45.04 L556.24,45.80 L557.67,46.57 L559.10,47.35 L560.53,48.14 L561.96,48.94 L563.39,49.75 L564.82,50.58 L566.25,51.41 L567.68,52.26 L569.11,53.11 L570.54,53.98 L571.97,54.85 L573.40,55.72 L574.83,56.61 L576.26,57.50 L577.69,58.39 L579.12,59.28 L580.55,60.18 L581.98,61.08 L583.41,61.98 L584.84,62.89 L586.27,63.80 L587.70,64.71 L589.13,65.63 L590.56,66.55 L591.99,67.47 L593.42,68.40 L594.85,69.32 L596.28,70.25 L597.71,71.18 L599.14,72.11 L600.57,73.04 L602.00,73.96 L603.43,74.88 L604.86,75.79 L606.29,76.70 L607.72,77.61 L609.15,78.52 L610.58,79.44 L612.01,80.36 L613.44,81.28 L614.87,82.21 L616.30,83.14 L617.73,84.08 L619.16,85.02 L620.59,85.96 L622.02,86.90 L623.45,87.84 L624.88,88.78 L626.31,89.72 L627.74,90.66 L629.17,91.60 L630.60,92.54 L632.03,93.48 L633.46,94.41 L634.89,95.35 L636.32,96.29 L637.75,97.23 L639.18,98.16 L640.61,99.10 L642.04,100.03 L643.47,100.96 L644.90,101.88 L646.33,102.81 L647.76,103.73 L649.19,104.65 L650.62,105.56 L652.05,106.47 L653.48,107.36 L654.91,108.25 L656.34,109.13 L657.77,109.99 L659.20,110.86 L660.63,111.71 L662.06,112.56 L663.49,113.41 L664.92,114.25 L666.35,115.10 L667.78,115.95 L669.21,116.80 L670.64,117.66 L672.07,118.52 L673.50,119.39 L674.93,120.26 L676.36,121.15 L677.79,122.04 L679.22,122.94 L680.65,123.85 L682.08,124.76 L683.51,125.67 L684.94,126.58 L686.37,127.49 L687.80,128.39 L689.23,129.29 L690.66,130.18 L692.09,131.06 L693.52,131.93 L694.95,132.78 L696.38,133.61 L697.81,134.43 L699.24,135.23 L700.67,136.03 L702.10,136.81 L703.53,137.58 L704.96,138.35 L706.39,139.12 L707.82,139.87 L709.25,140.63 L710.68,141.39 L712.11,142.14 L713.54,142.89 L714.97,143.65 L716.40,144.40 L717.83,145.16 L719.26,145.92 L720.69,146.69 L722.12,147.46 L723.55,148.23 L724.98,149.00 L726.41,149.77 L727.84,150.54 L729.27,151.31 L730.70,152.08 L732.13,152.85 L733.56,153.61 L734.99,154.38 L736.42,155.14 L737.85,155.89 L739.28,156.65 L740.71,157.40 L742.14,158.14 L743.57,158.88 L745.00,159.61 L746.43,160.34 L747.86,161.06 L749.29,161.78 L750.72,162.49 L752.15,163.20 L753.58,163.91 L755.01,164.62 L756.44,165.32 L757.87,166.02 L759.30,166.73 L760.73,167.43 L762.16,168.14 L763.59,168.84 L765.02,169.55 L766.45,170.26 L767.88,170.98 L769.31,171.69 L770.74,172.41 L772.17,173.14 L773.60,173.87 L775.03,174.61 L776.46,175.35 L777.89,176.10 L779.32,176.85 L780.75,177.62 L782.18,178.39 L783.61,179.17 L785.04,179.97 L786.47,180.77 L787.90,181.59 L789.33,182.42 L790.76,183.26 L792.19,184.12 L793.62,184.99 L795.05,185.88 L796.48,186.78 L797.91,187.70 L799.34,188.64 L800.77,189.59 L802.20,190.57 L803.63,191.56 L805.06,192.57 L806.49,193.61 L807.92,194.66 L809.35,195.74 L810.78,196.32" stroke="#adff52"/>
<path d="M636.30,104.40 L637.77,105.14 L639.23,105.88 L640.70,106.62 L642.16,107.36 L643.63,108.10 L645.10,108.84 L646.56,109.57 L648.03,110.31 L649.50,111.05 L650.96,111.78 L652.43,112.52 L653.89,113.25 L655.36,113.99 L656.83,114.72 L658.29,115.45 L659.76,116.18 L661.23,116.92 L662.69,117.65 L664.16,118.38 L665.62,119.11 L667.09,119.85 L668.56,120.58 L670.02,121.31 L671.49,122.04 L672.96,122.77 L674.42,123.50 L675.89,124.24 L677.35,124.97 L678.82,125.70 L680.29,126.44 L681.75,127.17 L683.22,127.90 L684.69,128.64 L686.15,129.37 L687.62,130.10 L689.08,130.84 L690.55,131.58 L692.02,132.31 L693.48,133.05 L694.95,133.79 L696.42,134.52 L697.88,135.26 L699.35,136.00 L700.81,136.74 L702.28,137.48 L703.75,138.22 L705.21,138.96 L706.68,139.71 L708.15,140.45 L709.61,141.19 L711.08,141.94 L712.54,142.69 L714.01,143.43 L715.48,144.18 L716.94,144.93 L718.41,145.68 L719.88,146.43 L721.34,147.18 L722.81,147.94 L724.27,148.69 L725.74,149.45 L727.21,150.21 L728.67,150.96 L730.14,151.73 L731.61,152.49 L733.07,153.25 L734.54,154.02 L736.00,154.78 L737.47,155.55 L738.94,156.32 L740.40,157.10 L741.87,157.87 L743.34,158.65 L744.80,159.43 L746.27,160.21 L747.73,160.99 L749.20,161.78 L750.67,162.57 L752.13,163.36 L753.60,164.16 L755.07,164.95 L756.53,165.75 L758.00,166.55 L759.46,167.36 L760.93,168.17 L762.40,168.98 L763.86,169.79 L765.33,170.61 L766.80,171.43 L768.26,172.26 L769.73,173.10 L771.19,173.94 L772.66,174.78 L774.13,175.64 L775.59,176.50 L777.06,177.37 L778.53,178.24 L779.99,179.13 L781.46,180.02 L782.92,180.93 L784.39,181.84 L785.86,182.76 L787.32,183.70 L788.79,184.65 L790.26,185.60 L791.72,186.58 L793.19,187.56 L794.65,188.56 L796.12,189.57 L797.59,190.59 L799.05,191.63 L800.52,192.68 L801.99,193.75 L803.45,194.84 L804.92,195.94 L806.38,197.06 L807.85,198.20 L809.32,199.35 L810.78,200.06" stroke="#7f0000"/>
</g>
<line x1="490.50" y1="26.10" x2="490.50" y2="225.00" stroke="#6b6b6b" stroke-width="1.00"/>
<line x1="490.50" y1="224.50" x2="811.50" y2="224.50" stroke="#6b6b6b" stroke-width="1.00"/>
<line x1="490.50" y1="26.22" x2="495.50" y2="26.22" stroke="#6b6b6b" stroke-width="1.00"/>
<g transform="translate(486.20,35.80) scale(1,1.040)"><text x="-14.85" y="0" font-size="26.70" fill="#666666">5</text></g>
<line x1="490.50" y1="72.35" x2="495.50" y2="72.35" stroke="#6b6b6b" stroke-width="1.00"/>
<g transform="translate(486.20,81.93) scale(1,1.040)"><path transform="translate(-14.85,0) scale(0.01304,-0.01304)" d="M763 0H583V1147Q518 1085 412.5 1023Q307 961 223 930V1104Q374 1175 487 1276Q600 1377 647 1472H763Z" fill="#666666"/></g>
<line x1="490.50" y1="138.35" x2="495.50" y2="138.35" stroke="#6b6b6b" stroke-width="1.00"/>
<g transform="translate(486.20,147.93) scale(1,1.040)"><text x="-37.12" y="0" font-size="26.70" fill="#666666">0.</text><path transform="translate(-14.85,0) scale(0.01304,-0.01304)" d="M763 0H583V1147Q518 1085 412.5 1023Q307 961 223 930V1104Q374 1175 487 1276Q600 1377 647 1472H763Z" fill="#666666"/></g>
<line x1="490.50" y1="204.35" x2="495.50" y2="204.35" stroke="#6b6b6b" stroke-width="1.00"/>
<g transform="translate(486.20,213.93) scale(1,1.040)"><text x="-51.97" y="0" font-size="26.70" fill="#666666">0.0</text><path transform="translate(-14.85,0) scale(0.01304,-0.01304)" d="M763 0H583V1147Q518 1085 412.5 1023Q307 961 223 930V1104Q374 1175 487 1276Q600 1377 647 1472H763Z" fill="#666666"/></g>
<line x1="526.21" y1="224.50" x2="526.21" y2="220.10" stroke="#6b6b6b" stroke-width="1.00"/>
<g transform="translate(526.21,253.60) scale(1,1.040)"><text x="-18.56" y="0" font-size="26.70" fill="#666666">0.5</text></g>
<line x1="636.30" y1="224.50" x2="636.30" y2="220.10" stroke="#6b6b6b" stroke-width="1.00"/>
<g transform="translate(636.30,253.60) scale(1,1.040)"><path transform="translate(-7.42,0) scale(0.01304,-0.01304)" d="M763 0H583V1147Q518 1085 412.5 1023Q307 961 223 930V1104Q374 1175 487 1276Q600 1377 647 1472H763Z" fill="#666666"/></g>
<line x1="746.39" y1="224.50" x2="746.39" y2="220.10" stroke="#6b6b6b" stroke-width="1.00"/>
<g transform="translate(746.39,253.60) scale(1,1.040)"><text x="-7.42" y="0" font-size="26.70" fill="#666666">2</text></g>
<line x1="810.78" y1="224.50" x2="810.78" y2="220.10" stroke="#6b6b6b" stroke-width="1.00"/>
<g transform="translate(810.78,253.60) scale(1,1.040)"><text x="-7.42" y="0" font-size="26.70" fill="#666666">3</text></g>
<line x1="490.50" y1="383.04" x2="815.70" y2="383.04" stroke="#d2d2d2" stroke-width="1.00"/>
<clipPath id="bc"><rect x="489.6" y="200" width="326.4" height="260"/></clipPath>
<g fill="none" stroke-width="2.10" stroke-linejoin="round" stroke-linecap="square" clip-path="url(#bc)">
<path d="M490.60,247.10 L492.23,250.57 L493.87,253.98 L495.50,257.34 L497.13,260.63 L498.77,263.86 L500.40,267.04 L502.03,270.16 L503.67,273.22 L505.30,276.23 L506.93,279.18 L508.56,282.07 L510.20,284.92 L511.83,287.70 L513.46,290.44 L515.10,293.12 L516.73,295.75 L518.36,298.34 L520.00,300.87 L521.63,303.35 L523.26,305.78 L524.90,308.16 L526.53,310.50 L528.16,312.79 L529.80,315.03 L531.43,317.22 L533.06,319.38 L534.70,321.48 L536.33,323.55 L537.96,325.57 L539.59,327.55 L541.23,329.48 L542.86,331.38 L544.49,333.23 L546.13,335.05 L547.76,336.82 L549.39,338.56 L551.03,340.26 L552.66,341.93 L554.29,343.55 L555.93,345.14 L557.56,346.70 L559.19,348.22 L560.83,349.71 L562.46,351.16 L564.09,352.59 L565.73,353.98 L567.36,355.33 L568.99,356.66 L570.63,357.96 L572.26,359.23 L573.89,360.47 L575.52,361.68 L577.16,362.86 L578.79,364.02 L580.42,365.14 L582.06,366.25 L583.69,367.33 L585.32,368.38 L586.96,369.41 L588.59,370.41 L590.22,371.39 L591.86,372.35 L593.49,373.28 L595.12,374.20 L596.76,375.09 L598.39,375.96 L600.02,376.81 L601.66,377.64 L603.29,378.45 L604.92,379.24 L606.55,380.01 L608.19,380.77 L609.82,381.51 L611.45,382.23 L613.09,382.93 L614.72,383.61 L616.35,384.28 L617.99,384.94 L619.62,385.57 L621.25,386.20 L622.89,386.80 L624.52,387.40 L626.15,387.97 L627.79,388.54 L629.42,389.09 L631.05,389.63 L632.69,390.15 L634.32,390.67 L635.95,391.17 L637.58,391.65 L639.22,392.13 L640.85,392.59 L642.48,393.04 L644.12,393.48 L645.75,393.91 L647.38,394.33 L649.02,394.74 L650.65,395.14 L652.28,395.53 L653.92,395.90 L655.55,396.27 L657.18,396.63 L658.82,396.98 L660.45,397.32 L662.08,397.65 L663.72,397.96 L665.35,398.28 L666.98,398.58 L668.62,398.87 L670.25,399.15 L671.88,399.43 L673.51,399.70 L675.15,399.95 L676.78,400.20 L678.41,400.44 L680.05,400.68 L681.68,400.90 L683.31,401.12 L684.95,401.33 L686.58,401.53 L688.21,401.72 L689.85,401.90 L691.48,402.08 L693.11,402.25 L694.75,402.41 L696.38,402.56 L698.01,402.70 L699.65,402.84 L701.28,402.97 L702.91,403.09 L704.54,403.20 L706.18,403.30 L707.81,403.40 L709.44,403.49 L711.08,403.57 L712.71,403.64 L714.34,403.71 L715.98,403.77 L717.61,403.82 L719.24,403.86 L720.88,403.90 L722.51,403.93 L724.14,403.95 L725.78,403.96 L727.41,403.96 L729.04,403.96 L730.68,403.95 L732.31,403.93 L733.94,403.91 L735.57,403.88 L737.21,403.84 L738.84,403.79 L740.47,403.74 L742.11,403.68 L743.74,403.62 L745.37,403.54 L747.01,403.46 L748.64,403.38 L750.27,403.29 L751.91,403.19 L753.54,403.09 L755.17,402.98 L756.81,402.86 L758.44,402.74 L760.07,402.62 L761.71,402.49 L763.34,402.35 L764.97,402.21 L766.61,402.07 L768.24,401.92 L769.87,401.77 L771.50,401.62 L773.14,401.47 L774.77,401.31 L776.40,401.15 L778.04,400.99 L779.67,400.83 L781.30,400.66 L782.94,400.50 L784.57,400.34 L786.20,400.18 L787.84,400.02 L789.47,399.86 L791.10,399.71 L792.74,399.55 L794.37,399.41 L796.00,399.27 L797.64,399.13 L799.27,399.00 L800.90,398.87 L802.53,398.76 L804.17,398.65 L805.80,398.55 L807.43,398.47 L809.07,398.39 L810.70,398.33 L812.33,398.28 L813.97,398.24 L815.60,398.22" stroke="#00007f"/>
<path d="M490.60,250.43 L492.23,253.87 L493.87,257.25 L495.50,260.56 L497.13,263.80 L498.77,266.98 L500.40,270.10 L502.03,273.15 L503.67,276.14 L505.30,279.07 L506.93,281.94 L508.56,284.76 L510.20,287.51 L511.83,290.22 L513.46,292.86 L515.10,295.46 L516.73,298.00 L518.36,300.49 L520.00,302.93 L521.63,305.32 L523.26,307.66 L524.90,309.96 L526.53,312.20 L528.16,314.41 L529.80,316.56 L531.43,318.69 L533.06,320.84 L534.70,322.94 L536.33,324.99 L537.96,327.00 L539.59,328.96 L541.23,330.87 L542.86,332.74 L544.49,334.56 L546.13,336.34 L547.76,338.07 L549.39,339.76 L551.03,341.42 L552.66,343.03 L554.29,344.60 L555.93,346.13 L557.56,347.63 L559.19,349.09 L560.83,350.51 L562.46,351.89 L564.09,353.25 L565.73,354.56 L567.36,355.85 L568.99,357.10 L570.63,358.33 L572.26,359.52 L573.89,360.68 L575.52,361.81 L577.16,362.92 L578.79,364.00 L580.42,365.05 L582.06,366.07 L583.69,367.07 L585.32,368.05 L586.96,369.00 L588.59,369.93 L590.22,370.83 L591.86,371.71 L593.49,372.58 L595.12,373.42 L596.76,374.24 L598.39,375.04 L600.02,375.82 L601.66,376.59 L603.29,377.33 L604.92,378.06 L606.55,378.77 L608.19,379.46 L609.82,380.14 L611.45,380.81 L613.09,381.45 L614.72,382.09 L616.35,382.70 L617.99,383.31 L619.62,383.90 L621.25,384.47 L622.89,385.04 L624.52,385.59 L626.15,386.13 L627.79,386.65 L629.42,387.17 L631.05,387.67 L632.69,388.16 L634.32,388.64 L635.95,389.11 L637.58,389.57 L639.22,390.02 L640.85,390.45 L642.48,390.88 L644.12,391.30 L645.75,391.71 L647.38,392.11 L649.02,392.50 L650.65,392.88 L652.28,393.25 L653.92,393.62 L655.55,394.00 L657.18,394.38 L658.82,394.74 L660.45,395.09 L662.08,395.44 L663.72,395.78 L665.35,396.10 L666.98,396.42 L668.62,396.74 L670.25,397.04 L671.88,397.33 L673.51,397.62 L675.15,397.90 L676.78,398.17 L678.41,398.43 L680.05,398.69 L681.68,398.94 L683.31,399.18 L684.95,399.41 L686.58,399.63 L688.21,399.85 L689.85,400.06 L691.48,400.26 L693.11,400.45 L694.75,400.64 L696.38,400.82 L698.01,400.99 L699.65,401.16 L701.28,401.32 L702.91,401.47 L704.54,401.61 L706.18,401.75 L707.81,401.88 L709.44,402.01 L711.08,402.13 L712.71,402.24 L714.34,402.34 L715.98,402.44 L717.61,402.53 L719.24,402.62 L720.88,402.70 L722.51,402.77 L724.14,402.84 L725.78,402.90 L727.41,402.96 L729.04,403.01 L730.68,403.05 L732.31,403.09 L733.94,403.12 L735.57,403.15 L737.21,403.18 L738.84,403.19 L740.47,403.21 L742.11,403.22 L743.74,403.22 L745.37,403.22 L747.01,403.21 L748.64,403.20 L750.27,403.18 L751.91,403.16 L753.54,403.13 L755.17,403.10 L756.81,403.07 L758.44,403.03 L760.07,402.99 L761.71,402.94 L763.34,402.89 L764.97,402.84 L766.61,402.79 L768.24,402.73 L769.87,402.66 L771.50,402.60 L773.14,402.53 L774.77,402.46 L776.40,402.39 L778.04,402.32 L779.67,402.24 L781.30,402.16 L782.94,402.09 L784.57,402.01 L786.20,401.93 L787.84,401.85 L789.47,401.77 L791.10,401.69 L792.74,401.61 L794.37,401.53 L796.00,401.45 L797.64,401.38 L799.27,401.31 L800.90,401.24 L802.53,401.17 L804.17,401.11 L805.80,401.05 L807.43,400.99 L809.07,400.94 L810.70,400.90 L812.33,400.86 L813.97,400.83 L815.60,400.80" stroke="#adff52"/>
<path d="M490.60,266.66 L492.23,270.22 L493.87,273.66 L495.50,277.00 L497.13,280.23 L498.77,283.36 L500.40,286.40 L502.03,289.34 L503.67,292.18 L505.30,294.94 L506.93,297.62 L508.56,300.21 L510.20,302.72 L511.83,305.16 L513.46,307.52 L515.10,309.81 L516.73,312.04 L518.36,314.19 L520.00,316.28 L521.63,318.32 L523.26,320.29 L524.90,322.20 L526.53,324.06 L528.16,325.87 L529.80,327.62 L531.43,329.33 L533.06,330.99 L534.70,332.60 L536.33,334.17 L537.96,335.70 L539.59,337.19 L541.23,338.63 L542.86,340.04 L544.49,341.42 L546.13,342.76 L547.76,344.06 L549.39,345.34 L551.03,346.58 L552.66,347.79 L554.29,348.97 L555.93,350.13 L557.56,351.26 L559.19,352.37 L560.83,353.45 L562.46,354.50 L564.09,355.54 L565.73,356.55 L567.36,357.54 L568.99,358.51 L570.63,359.46 L572.26,360.39 L573.89,361.31 L575.52,362.20 L577.16,363.08 L578.79,363.94 L580.42,364.79 L582.06,365.62 L583.69,366.44 L585.32,367.24 L586.96,368.03 L588.59,368.80 L590.22,369.56 L591.86,370.31 L593.49,371.05 L595.12,371.77 L596.76,372.49 L598.39,373.19 L600.02,373.88 L601.66,374.56 L603.29,375.22 L604.92,375.88 L606.55,376.53 L608.19,377.16 L609.82,377.79 L611.45,378.41 L613.09,379.02 L614.72,379.61 L616.35,380.20 L617.99,380.78 L619.62,381.35 L621.25,381.91 L622.89,382.46 L624.52,383.01 L626.15,383.54 L627.79,384.07 L629.42,384.59 L631.05,385.09 L632.69,385.59 L634.32,386.09 L635.95,386.57 L637.58,387.04 L639.22,387.51 L640.85,387.97 L642.48,388.42 L644.12,388.86 L645.75,389.29 L647.38,389.72 L649.02,390.14 L650.65,390.54 L652.28,390.95 L653.92,391.34 L655.55,391.72 L657.18,392.10 L658.82,392.47 L660.45,392.83 L662.08,393.18 L663.72,393.53 L665.35,393.87 L666.98,394.20 L668.62,394.52 L670.25,394.83 L671.88,395.14 L673.51,395.44 L675.15,395.73 L676.78,396.02 L678.41,396.30 L680.05,396.57 L681.68,396.83 L683.31,397.09 L684.95,397.33 L686.58,397.58 L688.21,397.81 L689.85,398.04 L691.48,398.26 L693.11,398.48 L694.75,398.69 L696.38,398.89 L698.01,399.09 L699.65,399.28 L701.28,399.46 L702.91,399.64 L704.54,399.82 L706.18,399.99 L707.81,400.15 L709.44,400.31 L711.08,400.46 L712.71,400.61 L714.34,400.75 L715.98,400.89 L717.61,401.02 L719.24,401.15 L720.88,401.28 L722.51,401.40 L724.14,401.52 L725.78,401.63 L727.41,401.75 L729.04,401.85 L730.68,401.96 L732.31,402.06 L733.94,402.16 L735.57,402.26 L737.21,402.35 L738.84,402.44 L740.47,402.53 L742.11,402.62 L743.74,402.71 L745.37,402.79 L747.01,402.88 L748.64,402.96 L750.27,403.04 L751.91,403.12 L753.54,403.20 L755.17,403.28 L756.81,403.36 L758.44,403.43 L760.07,403.51 L761.71,403.59 L763.34,403.66 L764.97,403.74 L766.61,403.81 L768.24,403.89 L769.87,403.97 L771.50,404.04 L773.14,404.12 L774.77,404.19 L776.40,404.27 L778.04,404.34 L779.67,404.41 L781.30,404.49 L782.94,404.56 L784.57,404.64 L786.20,404.71 L787.84,404.78 L789.47,404.85 L791.10,404.92 L792.74,404.99 L794.37,405.05 L796.00,405.12 L797.64,405.18 L799.27,405.24 L800.90,405.29 L802.53,405.35 L804.17,405.40 L805.80,405.44 L807.43,405.48 L809.07,405.52 L810.70,405.55 L812.33,405.57 L813.97,405.58 L815.60,405.59" stroke="#7f0000"/>
</g>
<line x1="490.50" y1="232.40" x2="490.50" y2="434.00" stroke="#6b6b6b" stroke-width="1.00"/>
<line x1="490.50" y1="433.50" x2="816.20" y2="433.50" stroke="#6b6b6b" stroke-width="1.00"/>
<line x1="490.50" y1="282.84" x2="495.50" y2="282.84" stroke="#6b6b6b" stroke-width="1.00"/>
<g transform="translate(486.20,292.42) scale(1,1.040)"><text x="-51.97" y="0" font-size="26.70" fill="#666666">0.0</text><path transform="translate(-14.85,0) scale(0.01304,-0.01304)" d="M763 0H583V1147Q518 1085 412.5 1023Q307 961 223 930V1104Q374 1175 487 1276Q600 1377 647 1472H763Z" fill="#666666"/></g>
<line x1="490.50" y1="332.94" x2="495.50" y2="332.94" stroke="#6b6b6b" stroke-width="1.00"/>
<g transform="translate(486.20,342.52) scale(1,1.040)"><text x="-66.82" y="0" font-size="26.70" fill="#666666">0.005</text></g>
<line x1="490.50" y1="383.04" x2="495.50" y2="383.04" stroke="#6b6b6b" stroke-width="1.00"/>
<g transform="translate(486.20,392.62) scale(1,1.040)"><text x="-14.85" y="0" font-size="26.70" fill="#666666">0</text></g>
<g transform="translate(486.20,442.72) scale(1,1.040)"><text x="-82.41" y="0" font-size="26.70" fill="#666666">&#8722;0.005</text></g>
<g transform="translate(490.60,462.80) scale(1,1.040)"><text x="-7.42" y="0" font-size="26.70" fill="#666666">3</text></g>
<line x1="571.85" y1="433.50" x2="571.85" y2="428.50" stroke="#6b6b6b" stroke-width="1.00"/>
<g transform="translate(571.85,462.80) scale(1,1.040)"><text x="-7.42" y="0" font-size="26.70" fill="#666666">4</text></g>
<line x1="653.10" y1="433.50" x2="653.10" y2="428.50" stroke="#6b6b6b" stroke-width="1.00"/>
<g transform="translate(653.10,462.80) scale(1,1.040)"><text x="-7.42" y="0" font-size="26.70" fill="#666666">5</text></g>
<line x1="734.35" y1="433.50" x2="734.35" y2="428.50" stroke="#6b6b6b" stroke-width="1.00"/>
<g transform="translate(734.35,462.80) scale(1,1.040)"><text x="-7.42" y="0" font-size="26.70" fill="#666666">6</text></g>
<line x1="815.60" y1="433.50" x2="815.60" y2="428.50" stroke="#6b6b6b" stroke-width="1.00"/>
<g transform="translate(815.60,462.80) scale(1,1.040)"><text x="-7.42" y="0" font-size="26.70" fill="#666666">7</text></g>
</g>
</svg>
</body>
</html>
